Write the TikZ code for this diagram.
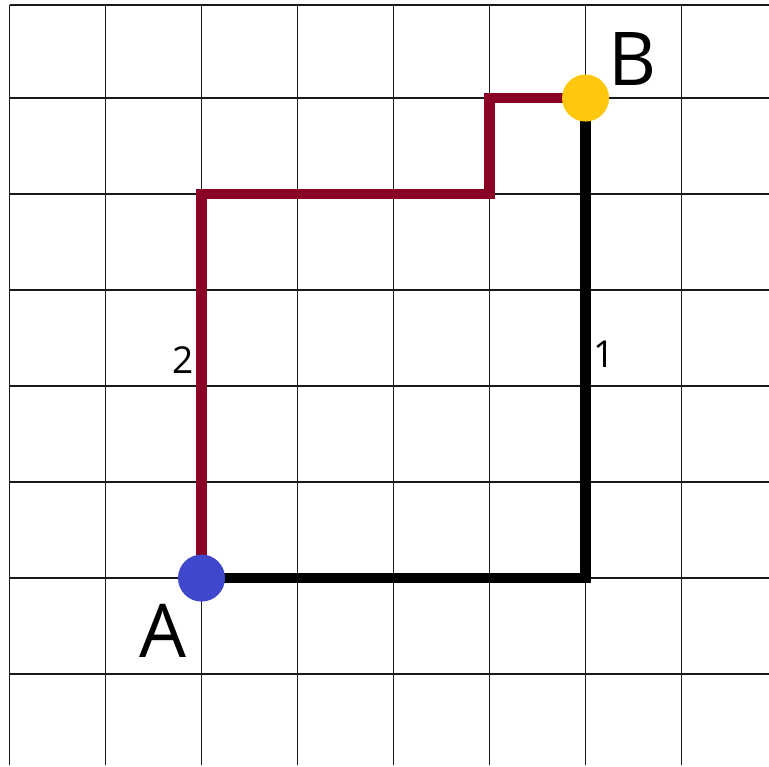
\documentclass[tikz,border=0pt]{standalone}
\usepackage{fontspec}
\setmainfont{Open Sans}
\usepackage{xcolor}
\usetikzlibrary{positioning,backgrounds}
\definecolor{PathRed}{HTML}{8A0025}
\definecolor{PointBlue}{HTML}{3F48CC}
\definecolor{PointGold}{HTML}{FFC80F}

\begin{document}
\begin{tikzpicture}[
    gridline/.style={line width=0.45pt, black!90},
    route/.style={line width=3.1pt},
    point/.style={circle, inner sep=0pt, minimum size=0.49cm}
  ]
    % Frame
    \useasboundingbox (-2.099,-1.958) rectangle (5.911,6.021);

    % Points
    \node[point, fill=PointBlue] (A) at (0,0) {};
    \node[point, fill=PointGold] (B) at (4,5) {};

    % Corners of the routes
    \coordinate (r1) at (0,4);
    \coordinate (r2) at (3,4);
    \coordinate (r3) at (3,5);
    \coordinate (k1) at (4,0);

    \begin{scope}[on background layer]
        % Grid
        \foreach \x in {-2,...,5}
            \draw[gridline] (\x,-1.95) -- (\x,5.97);
        \foreach \y in {-1,...,5}
            \draw[gridline] (-2,\y) -- (5.911,\y);
        \draw[gridline] (-2,5.97) -- (5.911,5.97);

        % Route 1
        \draw[route, black] (A.center) -- (k1) -- (B.center);

        % Route 2
        \draw[route, PathRed] (A.center) -- (r1) -- (r2) -- (r3) -- (B.center);
    \end{scope}

    % Labels
    \node[font=\fontsize{11}{13}\selectfont] (lbl2) at (-0.19,2.27) {2};
    \node[font=\fontsize{11}{13}\selectfont] (lbl1) at (4.19,2.33) {1};
    \node[font=\fontsize{22}{26}\selectfont] (lblA) at (-0.40,-0.55) {A};
    \node[font=\fontsize{22}{26}\selectfont] (lblB) at (4.49,5.41) {B};

\end{tikzpicture}
\end{document}
